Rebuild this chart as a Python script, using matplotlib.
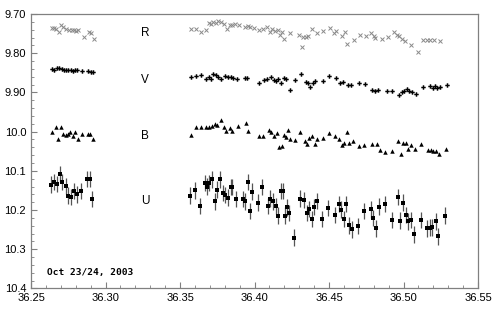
"""Multi-band light curve (U, B, V, R) for the night of Oct 23/24, 2003."""
import matplotlib
matplotlib.use("Agg")
import matplotlib.pyplot as plt
from matplotlib.ticker import MultipleLocator, FixedLocator

# ---- data -----------------------------------------------------------------
R_t = [36.2643, 36.2654, 36.2667, 36.2685, 36.2701, 36.2716, 36.2734, 36.2754,
       36.2773, 36.2788, 36.2801, 36.2817, 36.2853, 36.2886, 36.2902, 36.2922,
       36.3576, 36.3610, 36.3643, 36.3677, 36.3694, 36.3705, 36.3721, 36.3739,
       36.3755, 36.3772, 36.3795, 36.3817, 36.3833, 36.3851, 36.3868, 36.3893,
       36.3933, 36.3955, 36.3968, 36.3995, 36.4029, 36.4057, 36.4084, 36.4106,
       36.4117, 36.4139, 36.4157, 36.4172, 36.4183, 36.4201, 36.4239, 36.4299,
       36.4317, 36.4328, 36.4343, 36.4361, 36.4383, 36.4421, 36.4461, 36.4506,
       36.4535, 36.4548, 36.4584, 36.4607, 36.4622, 36.4669, 36.4707, 36.4745,
       36.4785, 36.4803, 36.4812, 36.4857, 36.4893, 36.4936, 36.4953, 36.4970,
       36.4992, 36.5010, 36.5049, 36.5094, 36.5133, 36.5156, 36.5179, 36.5203,
       36.5247]
R_mag = [9.736, 9.735, 9.738, 9.745, 9.729, 9.732, 9.739, 9.741,
         9.741, 9.741, 9.743, 9.742, 9.758, 9.745, 9.748, 9.763,
         9.739, 9.739, 9.745, 9.741, 9.724, 9.725, 9.721, 9.724,
         9.717, 9.720, 9.725, 9.739, 9.728, 9.728, 9.725, 9.728,
         9.732, 9.730, 9.733, 9.736, 9.742, 9.737, 9.733, 9.746,
         9.737, 9.744, 9.741, 9.753, 9.746, 9.764, 9.748, 9.754,
         9.785, 9.759, 9.759, 9.756, 9.737, 9.748, 9.744, 9.735,
         9.748, 9.744, 9.756, 9.746, 9.776, 9.767, 9.753, 9.756,
         9.748, 9.756, 9.761, 9.763, 9.759, 9.746, 9.754, 9.756,
         9.763, 9.769, 9.779, 9.796, 9.767, 9.767, 9.767, 9.767,
         9.769]

V_t = [36.2643, 36.2656, 36.2672, 36.2690, 36.2706, 36.2719, 36.2734, 36.2750,
       36.2766, 36.2783, 36.2797, 36.2810, 36.2842, 36.2884, 36.2902, 36.2917,
       36.3576, 36.3605, 36.3638, 36.3677, 36.3694, 36.3710, 36.3724, 36.3739,
       36.3755, 36.3772, 36.3799, 36.3821, 36.3839, 36.3855, 36.3882, 36.3933,
       36.3951, 36.4029, 36.4063, 36.4085, 36.4112, 36.4130, 36.4145, 36.4161,
       36.4179, 36.4196, 36.4214, 36.4241, 36.4275, 36.4313, 36.4346, 36.4362,
       36.4375, 36.4390, 36.4409, 36.4462, 36.4502, 36.4547, 36.4574, 36.4591,
       36.4630, 36.4648, 36.4703, 36.4741, 36.4790, 36.4808, 36.4826, 36.4889,
       36.4926, 36.4971, 36.4987, 36.5004, 36.5022, 36.5040, 36.5056, 36.5083,
       36.5132, 36.5177, 36.5199, 36.5212, 36.5228, 36.5246, 36.5290]
V_mag = [9.840, 9.842, 9.839, 9.837, 9.841, 9.843, 9.843, 9.843,
         9.843, 9.846, 9.844, 9.844, 9.846, 9.846, 9.848, 9.848,
         9.861, 9.857, 9.856, 9.865, 9.860, 9.865, 9.853, 9.856,
         9.860, 9.865, 9.857, 9.860, 9.861, 9.862, 9.866, 9.863,
         9.862, 9.877, 9.869, 9.866, 9.860, 9.869, 9.871, 9.865,
         9.876, 9.863, 9.865, 9.894, 9.869, 9.853, 9.873, 9.877,
         9.886, 9.877, 9.871, 9.871, 9.858, 9.863, 9.877, 9.873,
         9.881, 9.881, 9.877, 9.878, 9.894, 9.897, 9.893, 9.896,
         9.896, 9.907, 9.899, 9.896, 9.892, 9.896, 9.899, 9.904,
         9.887, 9.883, 9.888, 9.883, 9.888, 9.885, 9.881]

B_t = [36.2643, 36.2665, 36.2683, 36.2701, 36.2716, 36.2732, 36.2746, 36.2761,
       36.2779, 36.2795, 36.2813, 36.2840, 36.2880, 36.2895, 36.2913,
       36.3571, 36.3610, 36.3643, 36.3677, 36.3694, 36.3714, 36.3732, 36.3750,
       36.3772, 36.3795, 36.3810, 36.3833, 36.3851, 36.3888, 36.3940, 36.3955,
       36.4027, 36.4060, 36.4096, 36.4112, 36.4134, 36.4152, 36.4167, 36.4183,
       36.4196, 36.4212, 36.4223, 36.4241, 36.4273, 36.4308, 36.4340, 36.4353,
       36.4368, 36.4386, 36.4404, 36.4420, 36.4457, 36.4498, 36.4540, 36.4569,
       36.4585, 36.4598, 36.4621, 36.4636, 36.4658, 36.4698, 36.4737, 36.4786,
       36.4822, 36.4839, 36.4877, 36.4922, 36.4966, 36.4984, 36.4999, 36.5020,
       36.5033, 36.5053, 36.5080, 36.5120, 36.5167, 36.5183, 36.5201, 36.5217,
       36.5241, 36.5286]
B_mag = [10.002, 9.987, 10.018, 9.989, 10.006, 10.008, 10.007, 10.001,
         10.011, 10.002, 10.018, 10.006, 10.007, 10.007, 10.018,
         10.008, 9.987, 9.987, 9.987, 9.989, 9.985, 9.980, 9.983,
         9.970, 9.987, 9.998, 9.991, 9.998, 9.985, 9.978, 9.998,
         10.010, 10.012, 9.995, 10.000, 10.012, 10.004, 10.039, 10.037,
         10.008, 10.013, 9.995, 10.020, 10.022, 10.000, 10.023, 10.032,
         10.016, 10.010, 10.032, 10.018, 10.017, 10.004, 10.011, 10.019,
         10.035, 10.029, 10.000, 10.029, 10.023, 10.036, 10.035, 10.031,
         10.031, 10.046, 10.053, 10.050, 10.025, 10.056, 10.028, 10.030,
         10.044, 10.035, 10.044, 10.032, 10.048, 10.048, 10.049, 10.050,
         10.056, 10.044]

U_t = [36.2634, 36.2656, 36.2676, 36.2696, 36.2710, 36.2732, 36.2748, 36.2766,
       36.2788, 36.2808, 36.2837, 36.2877, 36.2895, 36.2909,
       36.3565, 36.3600, 36.3636, 36.3670, 36.3681, 36.3694, 36.3714, 36.3734,
       36.3750, 36.3768, 36.3790, 36.3804, 36.3821, 36.3841, 36.3851, 36.3877,
       36.3926, 36.3938, 36.3955, 36.3971, 36.3984, 36.4022, 36.4051, 36.4089,
       36.4105, 36.4123, 36.4145, 36.4160, 36.4176, 36.4192, 36.4205, 36.4219,
       36.4232, 36.4268, 36.4306, 36.4335, 36.4353, 36.4366, 36.4384, 36.4400,
       36.4417, 36.4456, 36.4496, 36.4538, 36.4565, 36.4581, 36.4598, 36.4616,
       36.4634, 36.4652, 36.4696, 36.4737, 36.4781, 36.4797, 36.4817, 36.4835,
       36.4873, 36.4920, 36.4960, 36.4978, 36.4998, 36.5016, 36.5033, 36.5051,
       36.5072, 36.5118, 36.5160, 36.5176, 36.5192, 36.5216, 36.5234, 36.5277]
U_mag = [10.135, 10.128, 10.133, 10.108, 10.128, 10.138, 10.163, 10.167,
         10.152, 10.160, 10.152, 10.121, 10.121, 10.172,
         10.163, 10.150, 10.189, 10.131, 10.140, 10.131, 10.122, 10.178,
         10.148, 10.122, 10.156, 10.162, 10.168, 10.141, 10.141, 10.172,
         10.172, 10.178, 10.128, 10.203, 10.153, 10.181, 10.141, 10.189,
         10.171, 10.178, 10.190, 10.214, 10.152, 10.152, 10.214, 10.193,
         10.207, 10.270, 10.171, 10.175, 10.207, 10.197, 10.223, 10.192,
         10.177, 10.223, 10.195, 10.212, 10.184, 10.199, 10.223, 10.184,
         10.239, 10.249, 10.240, 10.203, 10.198, 10.220, 10.247, 10.191,
         10.184, 10.225, 10.167, 10.227, 10.181, 10.212, 10.229, 10.226,
         10.262, 10.226, 10.247, 10.245, 10.244, 10.229, 10.267, 10.214]
U_ERR = 0.021

BAND_LABELS = ["R", "V", "B", "U"]
BAND_LABEL_MAG = [9.748, 9.868, 10.012, 10.178]
BAND_LABEL_T = 36.3265

X_TICKS = [36.25, 36.30, 36.35, 36.40, 36.45, 36.50, 36.55]
Y_TICKS = [9.70, 9.80, 9.90, 10.0, 10.1, 10.2, 10.3, 10.4]
Y_TICKLABELS = ["9.70", "9.80", "9.90", "10.0", "10.1", "10.2", "10.3", "10.4"]
NIGHT = "Oct 23/24, 2003"

# ---- figure -----------------------------------------------------------------
plt.rcParams["font.family"] = ["Liberation Sans", "DejaVu Sans"]
fig = plt.figure(figsize=(5.01, 3.13), dpi=100)
ax = fig.add_axes([0.0619, 0.0783, 0.8922, 0.877])

ax.plot(R_t, R_mag, ls="none", marker="x", ms=2.8, mew=0.7, color="#8a8a8a")
ax.plot(V_t, V_mag, ls="none", marker="P", ms=3.2, mew=0, color="black")
ax.plot(B_t, B_mag, ls="none", marker="^", ms=3.2, mew=0, color="black")
_, caps, bars = ax.errorbar(U_t, U_mag, yerr=U_ERR, fmt="s", ms=3.2, mew=0,
                            color="black", ecolor="#555555", elinewidth=0.9,
                            capsize=1.8, capthick=0.8)
for c in caps:
    c.set_color("#a8a8a8")

for lab, m in zip(BAND_LABELS, BAND_LABEL_MAG):
    ax.text(BAND_LABEL_T, m, lab, ha="center", va="center", fontsize=8.5)

ax.text(36.2605, 10.359, NIGHT, family="DejaVu Sans Mono", weight="bold",
        fontsize=6.8, ha="left", va="center")

ax.set_xlim(36.25, 36.55)
ax.set_ylim(10.4, 9.70)
ax.xaxis.set_major_locator(FixedLocator(X_TICKS))
ax.set_xticklabels([f"{t:.2f}" for t in X_TICKS])
ax.yaxis.set_major_locator(FixedLocator(Y_TICKS))
ax.set_yticklabels(Y_TICKLABELS)
ax.xaxis.set_minor_locator(MultipleLocator(0.01))
ax.yaxis.set_minor_locator(MultipleLocator(0.02))

ax.tick_params(which="both", direction="in", colors="#808080", labelcolor="black",
               labelsize=8)
ax.tick_params(which="major", length=4, width=0.8)
ax.tick_params(which="minor", length=2, width=0.6)
for s in ax.spines.values():
    s.set_color("#808080")
    s.set_linewidth(0.9)

fig.savefig("out.png", dpi=100)
